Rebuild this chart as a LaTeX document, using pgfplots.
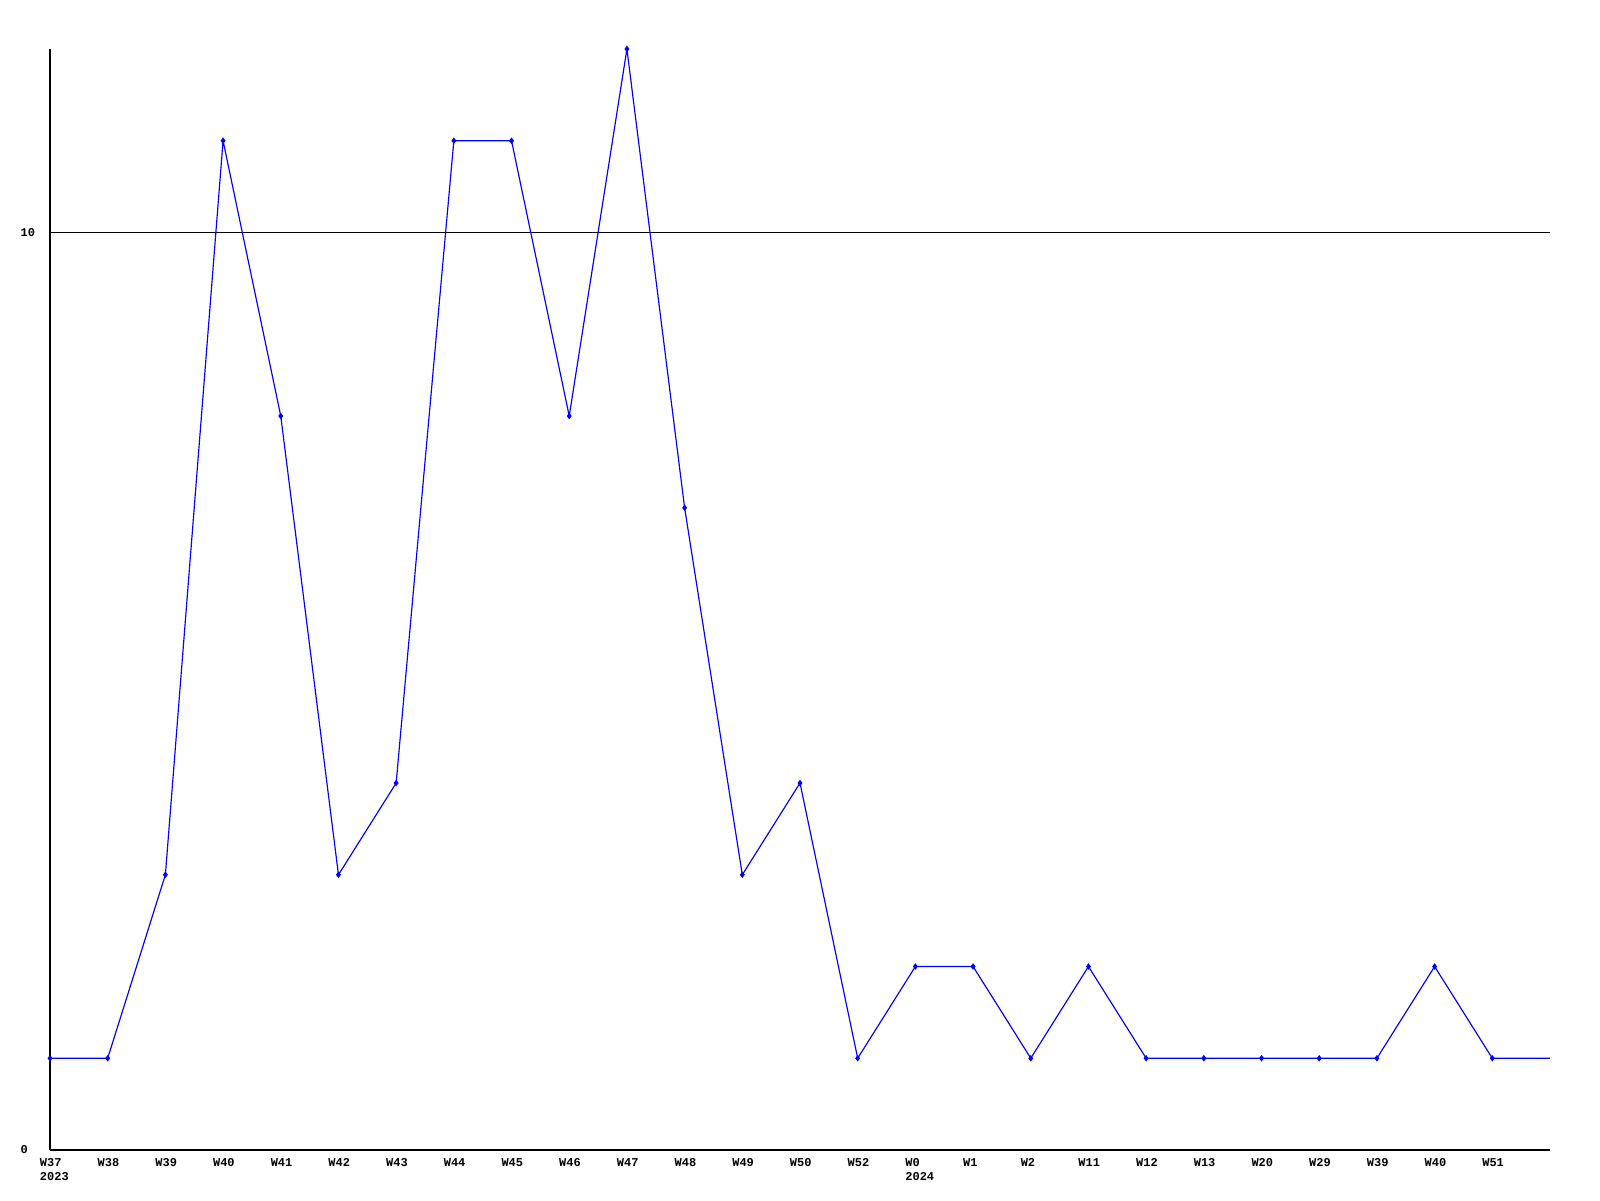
\documentclass[border=0pt]{standalone}
\usepackage{pgfplots}
\pgfplotsset{compat=1.18}
\usepackage{fontspec}
\newfontfamily\monofont{Liberation Mono}
\definecolor{lineblue}{RGB}{0,0,255}
\begin{document}
\begin{tikzpicture}
\path[use as bounding box] (-15pt,-15pt) rectangle (465pt,345pt);
\begin{axis}[
  at={(0,0)}, anchor=origin,
  scale only axis,
  width=450pt, height=330.3pt,
  xmin=0, xmax=26, ymin=0, ymax=12,
  axis x line*=bottom, axis y line*=left,
  axis line style={black, line width=0.35pt, -},
  xtick={0,...,25},
  xticklabels={{W37\\2023},W38,W39,W40,W41,W42,W43,W44,W45,W46,W47,W48,W49,W50,W52,{W0\\2024},W1,W2,W11,W12,W13,W20,W29,W39,W40,W51},
  xticklabel style={font=\monofont\bfseries\fontsize{3.6}{4.2}\selectfont, anchor=north west, align=left, inner sep=0pt, xshift=-3.2pt, yshift=-2.4pt},
  ytick={0,10},
  /pgf/number format/assume math mode=true,
  yticklabel style={font=\monofont\bfseries\fontsize{3.6}{4.2}\selectfont, anchor=west, inner sep=0pt, xshift=-9pt},
  major tick length=0pt,
  ymajorgrids,
  grid style={black, line width=0.3pt},
  clip=false,
]
\addplot[color=lineblue, line width=0.35pt, mark=diamond*, mark size=0.7pt, mark options={fill=lineblue, draw=lineblue}, mark indices={1,...,26}] coordinates {
(0,1) (1,1) (2,3) (3,11) (4,8) (5,3) (6,4) (7,11) (8,11) (9,8) (10,12) (11,7) (12,3) (13,4) (14,1) (15,2) (16,2) (17,1) (18,2) (19,1) (20,1) (21,1) (22,1) (23,1) (24,2) (25,1) (26,1)
};
\end{axis}
\end{tikzpicture}
\end{document}
